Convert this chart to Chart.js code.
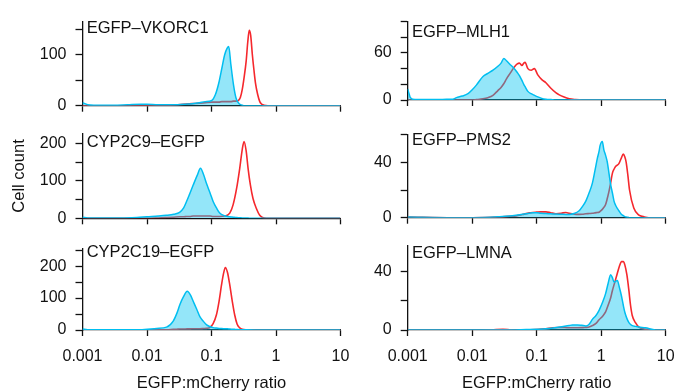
<!DOCTYPE html>
<html>
<head>
<meta charset="utf-8">
<script src="https://cdn.jsdelivr.net/npm/chart.js@4.4.1/dist/chart.umd.min.js"></script>
<style>
  html, body { margin: 0; padding: 0; background: #fff; }
  #wrap { position: relative; width: 676px; height: 392px; overflow: hidden; }
  #wrap canvas { position: absolute; }
</style>
</head>
<body>
<div id="wrap"></div>
<script>
// shared x axis (EGFP:mCherry ratio, log)
const xTickValues = [0.001, 0.01, 0.1, 1, 10];
const xTickLabels = ['0.001', '0.01', '0.1', '1', '10'];

// EGFP-VKORC1
const vkorc1Ratio = [0.001, 0.0012, 0.0015, 0.002, 0.003, 0.005, 0.008, 0.01, 0.015, 0.02, 0.03, 0.04, 0.05, 0.065, 0.08, 0.1, 0.115, 0.13, 0.145, 0.16, 0.175, 0.185, 0.2, 0.22, 0.24, 0.26, 0.28, 0.3, 0.32, 0.345, 0.365, 0.385, 0.405, 0.43, 0.455, 0.48, 0.52, 0.56, 0.6, 0.65, 0.75, 1, 2, 5, 10];
const vkorc1Cyan = [6, 2, 1, 1, 1, 2, 3, 3, 2, 2, 2, 3, 4, 6, 8, 10, 22, 45, 74, 100, 113, 116, 80, 40, 15, 6, 2, 1, 0, 0, 0, 0, 0, 0, 0, 0, 0, 0, 0, 0, 0, 0, 0, 0, 0];
const vkorc1Red = [0, 0, 0, 0, 0, 0, 0, 0, 1, 1, 2, 3, 4, 5, 6, 7, 7, 7, 8, 8, 8, 8, 8, 9, 9, 10, 16, 32, 55, 88, 125, 148, 138, 100, 70, 45, 22, 8, 3, 1, 0, 0, 0, 0, 0];
const vkorc1YTicks = [0, 50, 100, 150];
const vkorc1YLabels = [0, 100];

// EGFP-MLH1
const mlh1Ratio = [0.001, 0.00105, 0.0011, 0.0013, 0.002, 0.003, 0.004, 0.005, 0.0057, 0.007, 0.0086, 0.01, 0.0116, 0.0147, 0.0175, 0.021, 0.025, 0.028, 0.031, 0.034, 0.038, 0.045, 0.05, 0.054, 0.059, 0.063, 0.066, 0.073, 0.082, 0.092, 0.104, 0.12, 0.139, 0.166, 0.2, 0.224, 0.26, 0.32, 0.4, 0.51, 1, 10];
const mlh1Cyan = [14, 8, 3, 0.5, 0.5, 0.5, 1, 1, 3, 5, 8, 13, 19, 30, 34, 38, 43, 47, 53, 50, 46, 40, 35, 31, 25, 20, 17, 11, 8, 6, 4, 2, 1, 0.5, 0, 0, 0, 0, 0, 0, 0, 0];
const mlh1Red = [0, 0, 0, 0, 0, 0, 0, 0, 0, 0, 0, 0, 0.5, 1.5, 3, 6, 12, 16, 21, 27, 33, 42, 46, 47, 44, 47, 48, 40, 38, 40, 32, 26, 22, 15, 9, 6.5, 4, 1.5, 0.5, 0, 0, 0];
const mlh1YTicks = [0, 20, 40, 60, 80, 100];
const mlh1YLabels = [0, 60];

// CYP2C9-EGFP
const cyp2c9Ratio = [0.001, 0.0012, 0.0015, 0.002, 0.004, 0.007, 0.01, 0.015, 0.02, 0.026, 0.032, 0.037, 0.041, 0.046, 0.052, 0.06, 0.0675, 0.075, 0.0837, 0.095, 0.106, 0.12, 0.134, 0.16, 0.192, 0.216, 0.245, 0.274, 0.3, 0.32, 0.345, 0.369, 0.4, 0.44, 0.5, 0.559, 0.62, 0.708, 1, 10];
const cyp2c9Cyan = [3, 1, 0.5, 0.5, 1, 2, 4, 6, 8, 11, 16, 28, 45, 66, 89, 115, 134, 118, 93, 68, 45, 27, 14, 7, 4, 3, 2, 1.5, 1, 1, 0.5, 0.5, 0, 0, 0, 0, 0, 0, 0, 0];
const cyp2c9Red = [0, 0, 0, 0, 0, 0, 0, 1, 2, 3, 4, 4, 5, 5, 6, 6, 6, 6, 6, 6, 5, 5, 5, 6, 14, 36, 80, 134, 185, 206, 180, 134, 90, 53, 25, 8, 2, 0, 0, 0];
const cyp2c9YTicks = [0, 50, 100, 150, 200];
const cyp2c9YLabels = [0, 100, 200];

// EGFP-PMS2
const pms2Ratio = [0.001, 0.005, 0.0103, 0.0266, 0.038, 0.048, 0.06, 0.077, 0.0867, 0.1, 0.115, 0.139, 0.165, 0.199, 0.24, 0.284, 0.32, 0.38, 0.455, 0.51, 0.577, 0.65, 0.73, 0.8, 0.873, 0.927, 0.96, 1.04, 1.1, 1.17, 1.245, 1.32, 1.4, 1.49, 1.58, 1.67, 1.88, 2.05, 2.2, 2.32, 2.44, 2.6, 2.75, 3.2, 3.84, 4.5, 5.47, 10];
const pms2Cyan = [0.5, 0, 0, 0.7, 1.2, 1.8, 2.5, 3.2, 3.5, 3.5, 3.2, 3, 2.8, 2.6, 2.5, 2.4, 2.4, 3, 5, 8, 12, 18, 25, 34, 43, 48, 52, 55, 49, 45, 40, 32, 24, 18, 12, 9, 5, 2.5, 1.5, 0.8, 0.5, 0.3, 0, 0, 0, 0, 0, 0];
const pms2Red = [0.5, 0, 0, 0.5, 1, 1.3, 2.3, 3.5, 3.8, 4, 4.2, 4.2, 3.6, 2.9, 3.2, 3.8, 3.2, 2.6, 2.4, 2.5, 2.8, 3, 3.2, 3.5, 3.8, 4, 4.5, 6, 7.5, 9.5, 14, 19, 25, 32, 35, 37, 39, 43, 46, 44, 40, 30, 20, 7, 1.8, 0.8, 0, 0];
const pms2YTicks = [0, 20, 40, 60];
const pms2YLabels = [0, 40];

// CYP2C19-EGFP
const cyp2c19Ratio = [0.001, 0.0012, 0.0015, 0.002, 0.004, 0.0078, 0.0141, 0.0201, 0.0255, 0.029, 0.0324, 0.037, 0.042, 0.047, 0.052, 0.059, 0.066, 0.075, 0.084, 0.094, 0.106, 0.119, 0.131, 0.143, 0.154, 0.164, 0.177, 0.192, 0.21, 0.229, 0.25, 0.274, 0.3, 0.35, 0.5, 1, 10];
const cyp2c19Cyan = [3, 1, 0.5, 0.5, 0.5, 1, 5, 9, 28, 52, 80, 105, 121, 110, 90, 65, 42, 27, 16, 11, 7.5, 6, 5, 4.5, 4.2, 4, 3.8, 3, 2.5, 2, 1.5, 1, 0.8, 0.5, 0.3, 0, 0];
const cyp2c19Red = [0, 0, 0, 0, 0, 0, 0.5, 1, 2, 2.5, 3, 3, 3.5, 3.5, 4, 4, 4, 4.5, 5, 7.5, 20, 47, 90, 141, 178, 196, 180, 141, 90, 47, 18, 6.6, 2, 0.5, 0, 0, 0];
const cyp2c19YTicks = [0, 50, 100, 150, 200, 250];
const cyp2c19YLabels = [0, 100, 200];

// EGFP-LMNA
const lmnaRatio = [0.001, 0.01, 0.02, 0.03, 0.04, 0.0685, 0.1, 0.139, 0.177, 0.224, 0.27, 0.319, 0.359, 0.43, 0.5, 0.577, 0.65, 0.73, 0.83, 0.927, 1.05, 1.17, 1.28, 1.4, 1.49, 1.58, 1.68, 1.78, 1.92, 2.07, 2.2, 2.33, 2.5, 2.69, 2.85, 3.03, 3.4, 3.84, 4.85, 6.92, 10];
const lmnaCyan = [0, 0, 0, 0, 0, 0.3, 0.5, 0.8, 1.3, 2, 2.6, 3.1, 3.4, 3.5, 3.2, 2.8, 4, 7.3, 10, 13.5, 19, 25, 32, 38, 36, 33, 33.5, 34, 29, 23, 17, 12, 8, 5, 3.8, 3, 2.5, 2, 1.5, 0, 0];
const lmnaRed = [0, 0, 0.2, 0.5, 0.2, 0, 0.3, 0.8, 1.5, 1.7, 1.7, 1.5, 1.5, 1.5, 1.6, 1.8, 2, 3, 4.5, 7, 9.5, 12.4, 17, 22, 27, 31, 35, 39, 44, 47, 47, 44.6, 38, 27, 17, 10, 5, 2, 0.5, 0, 0];
const lmnaYTicks = [0, 20, 40];
const lmnaYLabels = [0, 40];

const panels = [
  { name: 'EGFP\u2013VKORC1', ratio: vkorc1Ratio, cyan: vkorc1Cyan, red: vkorc1Red, yMax: 165, yTicks: vkorc1YTicks, yLabels: vkorc1YLabels },
  { name: 'EGFP\u2013MLH1', ratio: mlh1Ratio, cyan: mlh1Cyan, red: mlh1Red, yMax: 100, yTicks: mlh1YTicks, yLabels: mlh1YLabels },
  { name: 'CYP2C9\u2013EGFP', ratio: cyp2c9Ratio, cyan: cyp2c9Cyan, red: cyp2c9Red, yMax: 227, yTicks: cyp2c9YTicks, yLabels: cyp2c9YLabels },
  { name: 'EGFP\u2013PMS2', ratio: pms2Ratio, cyan: pms2Cyan, red: pms2Red, yMax: 60, yTicks: pms2YTicks, yLabels: pms2YLabels },
  { name: 'CYP2C19\u2013EGFP', ratio: cyp2c19Ratio, cyan: cyp2c19Cyan, red: cyp2c19Red, yMax: 255, yTicks: cyp2c19YTicks, yLabels: cyp2c19YLabels },
  { name: 'EGFP\u2013LMNA', ratio: lmnaRatio, cyan: lmnaCyan, red: lmnaRed, yMax: 58, yTicks: lmnaYTicks, yLabels: lmnaYLabels }
];

// plot area of each panel on the page (px), and the baseline of its name
const layout = [
  { l: 82.5, t: 13, r: 340.5, b: 105.7, nameY: 32.5 },
  { l: 407.7, t: 13.3, r: 665.7, b: 100, nameY: 36.7 },
  { l: 82.5, t: 125, r: 340.5, b: 218.3, nameY: 146.7, yTitle: 'Cell count' },
  { l: 407.7, t: 126, r: 665.7, b: 217.7, nameY: 145 },
  { l: 82.5, t: 240, r: 340.5, b: 330, nameY: 257.3, xTitle: 'EGFP:mCherry ratio' },
  { l: 407.7, t: 237.3, r: 665.7, b: 330, nameY: 258.3, xTitle: 'EGFP:mCherry ratio' }
];

const Y_W = 80, X_H = 64;
const ink = '#111';
Chart.defaults.font.family = '"Liberation Sans", Arial, sans-serif';
Chart.defaults.font.size = 16;
Chart.defaults.color = ink;

// panel name drawn inside the plot, top left
const panelName = {
  id: 'panelName',
  afterDraw(chart, args, opts) {
    const ctx = chart.ctx;
    ctx.save();
    ctx.font = '16.5px "Liberation Sans", Arial, sans-serif';
    ctx.fillStyle = ink;
    ctx.textBaseline = 'alphabetic';
    ctx.fillText(opts.text, chart.chartArea.left + 4.2, opts.baseline);
    ctx.restore();
  }
};

const wrap = document.getElementById('wrap');
panels.forEach((p, k) => {
  const a = layout[k];
  const cl = Math.floor(a.l) - Y_W, ct = Math.floor(a.t) - 10;
  const cw = Math.ceil(a.r) + 30 - cl, ch = Math.ceil(a.b) + X_H + 2 - ct;
  const cv = document.createElement('canvas');
  cv.width = cw; cv.height = ch;
  cv.style.left = cl + 'px'; cv.style.top = ct + 'px';
  cv.style.width = cw + 'px'; cv.style.height = ch + 'px';
  wrap.appendChild(cv);

  const bottomRow = !!a.xTitle;
  new Chart(cv, {
    type: 'line',
    data: {
      datasets: [
        {
          data: p.ratio.map((x, i) => ({ x: x, y: p.cyan[i] })),
          borderColor: 'rgb(0,190,240)',
          backgroundColor: 'rgba(0,195,240,0.42)',
          borderWidth: 1.5,
          fill: 'origin',
          pointRadius: 0,
          cubicInterpolationMode: 'monotone'
        },
        {
          data: p.ratio.map((x, i) => ({ x: x, y: p.red[i] })),
          borderColor: 'rgb(245,40,45)',
          borderWidth: 1.6,
          fill: false,
          pointRadius: 0,
          cubicInterpolationMode: 'monotone'
        }
      ]
    },
    options: {
      responsive: false,
      animation: false,
      devicePixelRatio: 1,
      events: [],
      layout: {
        autoPadding: false,
        padding: { left: a.l - cl - Y_W, top: a.t - ct, right: cl + cw - a.r, bottom: ct + ch - a.b - X_H }
      },
      plugins: {
        legend: { display: false },
        tooltip: { enabled: false },
        panelName: { text: p.name, baseline: a.nameY - ct }
      },
      scales: {
        x: {
          type: 'logarithmic',
          min: 0.001,
          max: 10,
          afterBuildTicks: s => { s.ticks = xTickValues.map(v => ({ value: v })); },
          afterFit: s => { s.height = X_H; },
          border: { color: ink, width: 1.3 },
          grid: { drawOnChartArea: false, tickLength: 6, tickColor: ink, tickWidth: 1.3 },
          ticks: {
            autoSkip: false, maxRotation: 0, padding: 11, color: ink, font: { size: 16 },
            callback: (v, i) => bottomRow ? xTickLabels[i] : ''
          },
          title: { display: bottomRow, text: a.xTitle || '', color: ink, font: { size: 16.5 }, padding: { top: 0, bottom: 1 } }
        },
        y: {
          type: 'linear',
          min: 0,
          max: p.yMax,
          afterBuildTicks: s => { s.ticks = p.yTicks.map(v => ({ value: v })); },
          afterFit: s => { s.width = Y_W; },
          border: { color: ink, width: 1.3 },
          grid: { drawOnChartArea: false, tickLength: 7, tickColor: ink, tickWidth: 1.3 },
          ticks: {
            autoSkip: false, padding: 9, color: ink, font: { size: 16 },
            callback: v => p.yLabels.includes(v) ? String(v) : ''
          },
          title: { display: !!a.yTitle, text: a.yTitle || '', color: ink, font: { size: 16.5 }, padding: { top: 7, bottom: 0 } }
        }
      }
    },
    plugins: [panelName]
  });
});
</script>
</body>
</html>
